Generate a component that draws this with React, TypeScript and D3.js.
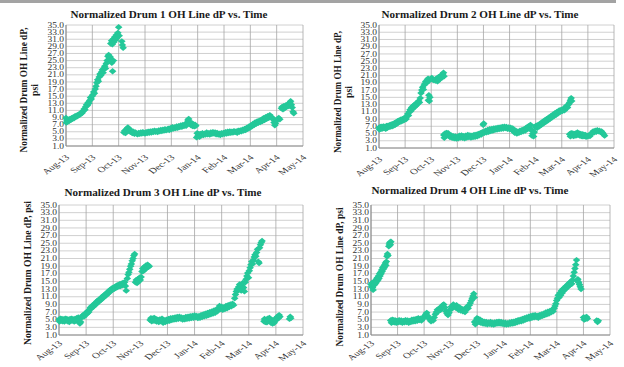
import React from 'react';
import * as d3 from 'd3';

// month categories on the x axis (equal spacing, one per month)
const monthLabels = ['Aug-13', 'Sep-13', 'Oct-13', 'Nov-13', 'Dec-13', 'Jan-14', 'Feb-14', 'Mar-14', 'Apr-14', 'May-14'];
const yTickValues = [1, 3, 5, 7, 9, 11, 13, 15, 17, 19, 21, 23, 25, 27, 29, 31, 33, 35];

// [month offset from Aug-13, dP psi]
const drum1: [number, number][] = [
  [0.00,8.9],[0.01,7.6],[0.03,8.3],[0.06,7.8],[0.09,8.4],[0.12,8.1],[0.15,8.6],[0.18,8.3],[0.21,8.8],[0.24,8.6],[0.27,9.0],[0.30,8.8],[0.33,9.3],[0.36,9.1],[0.39,9.5],[0.42,9.3],[0.45,9.7],[0.48,9.6],[0.51,10.0],[0.54,9.9],[0.57,10.3],[0.60,10.2],[0.63,10.6],[0.66,10.9],[0.69,11.4],[0.72,11.2],[0.75,12.0],[0.78,12.6],[0.81,12.4],[0.84,13.2],[0.87,13.0],[0.90,13.8],[0.93,14.6],[0.96,14.2],[0.99,15.0],[1.02,15.4],[1.05,16.2],[1.08,15.8],[1.11,17.0],[1.14,17.8],[1.17,18.8],[1.20,19.6],[1.23,19.2],[1.26,20.4],[1.29,21.2],[1.32,20.8],[1.35,21.8],[1.38,22.4],[1.41,21.6],[1.44,22.8],[1.47,23.4],[1.50,22.8],[1.53,24.2],[1.56,25.0],[1.59,26.2],[1.62,26.6],[1.65,25.6],[1.68,26.0],[1.71,25.2],[1.74,24.4],[1.77,22.0],[1.80,25.0],
  [1.70,29.8],[1.73,30.6],[1.76,29.6],[1.79,31.0],[1.82,30.2],[1.85,31.6],[1.88,30.8],[1.91,32.2],[1.94,31.4],[1.97,32.8],[2.00,34.4],[2.02,32.0],[2.12,30.4],[2.14,29.4],[2.17,28.6],
  [2.20,4.8],[2.23,5.3],[2.26,4.6],[2.29,5.6],[2.32,5.9],[2.35,6.2],[2.38,5.7],[2.41,5.3],[2.44,5.0],[2.47,5.4],[2.50,4.8],[2.53,4.6],[2.56,5.0],[2.60,4.4],[2.64,4.8],[2.68,4.5],[2.72,4.3],[2.76,4.7],[2.80,4.4],[2.84,4.8],[2.88,4.5],[2.92,4.9],[2.96,4.6],[3.00,4.5],[3.04,4.9],[3.08,4.6],[3.12,5.0],[3.16,4.7],[3.20,5.1],[3.24,4.8],[3.28,5.2],[3.32,4.9],[3.36,5.3],[3.40,5.0],[3.44,5.2],[3.48,4.9],[3.52,5.4],[3.56,5.1],[3.60,5.5],[3.64,5.2],[3.68,5.6],[3.72,5.3],[3.76,5.7],[3.80,5.4],[3.84,5.6],[3.88,5.9],[3.92,5.5],[3.96,6.0],[4.00,5.7],[4.04,6.3],[4.08,5.9],[4.12,6.2],[4.16,6.0],[4.20,6.5],[4.24,6.1],[4.28,6.6],[4.32,6.3],[4.36,6.8],[4.40,6.4],[4.44,6.9],[4.48,6.6],[4.52,7.0],[4.56,6.7],[4.60,7.6],[4.63,8.3],[4.66,8.6],[4.69,7.8],[4.72,7.2],[4.75,6.8],[4.78,7.4],[4.81,6.6],[4.84,7.1],[4.87,6.5],[4.90,7.0],[4.93,6.7],
  [4.96,3.4],[4.98,4.6],[5.01,3.8],[5.04,4.3],[5.07,3.6],[5.10,4.4],[5.14,4.0],[5.18,4.6],[5.22,4.1],[5.26,4.5],[5.30,4.2],[5.34,4.8],[5.38,4.3],[5.42,4.6],[5.46,4.2],[5.50,4.8],[5.54,4.4],[5.58,4.9],[5.62,4.5],[5.66,4.8],[5.70,4.3],[5.74,4.7],[5.78,4.2],[5.82,4.5],[5.86,4.1],[5.90,4.6],[5.94,4.3],[5.98,4.7],[6.02,4.4],[6.06,4.9],[6.10,4.5],[6.14,5.0],[6.18,4.6],[6.22,5.1],[6.26,4.7],[6.30,5.0],[6.34,4.8],[6.38,5.2],[6.42,4.9],[6.46,5.1],[6.50,4.7],[6.54,5.3],[6.58,5.0],[6.62,5.4],[6.66,5.1],[6.70,5.6],[6.74,5.3],[6.78,5.8],[6.82,5.5],[6.86,6.1],[6.90,5.8],[6.94,6.4],[6.98,6.1],[7.02,6.8],[7.06,6.5],[7.10,7.2],[7.14,6.9],[7.18,7.6],[7.22,7.2],[7.26,7.9],[7.30,7.5],[7.34,8.1],[7.38,7.7],[7.42,8.4],[7.46,8.0],[7.50,8.8],[7.54,8.3],[7.58,9.1],[7.62,8.6],[7.66,9.4],[7.70,8.9],[7.74,9.7],[7.78,9.2],[7.82,9.0],[7.86,8.5],[7.90,7.6],[7.93,6.8],[7.96,7.4],[8.00,8.2],[8.04,8.6],[8.08,8.9],[8.12,8.5],[8.18,11.6],[8.21,12.0],[8.24,11.3],[8.27,12.2],[8.30,11.6],[8.34,12.4],[8.38,12.0],[8.42,12.7],[8.46,12.2],[8.50,13.2],[8.53,13.6],[8.56,12.6],[8.59,11.8],[8.62,10.6],[8.65,10.2],
];

const drum2: [number, number][] = [
  [0.00,6.6],[0.02,6.1],[0.05,6.8],[0.08,6.3],[0.11,6.9],[0.14,6.4],[0.17,7.0],[0.20,6.5],[0.23,6.9],[0.26,6.3],[0.29,7.1],[0.32,6.6],[0.35,7.2],[0.38,6.8],[0.41,7.3],[0.44,6.9],[0.47,7.5],[0.50,7.0],[0.53,7.6],[0.56,7.2],[0.59,7.9],[0.62,7.4],[0.65,8.1],[0.68,7.7],[0.71,8.4],[0.74,8.0],[0.77,8.6],[0.80,8.2],[0.83,8.8],[0.86,8.4],[0.89,9.0],[0.92,8.6],[0.95,9.2],[0.98,8.8],[1.01,9.4],[1.04,9.0],[1.07,9.8],[1.10,10.4],[1.13,10.0],[1.16,11.0],[1.19,11.6],[1.22,11.2],[1.25,12.2],[1.28,11.8],[1.31,12.6],[1.34,12.2],[1.37,13.0],[1.40,12.6],[1.43,13.4],[1.46,13.0],[1.49,13.6],[1.52,14.0],[1.55,13.6],[1.58,14.8],[1.61,16.2],[1.64,17.0],[1.67,17.8],[1.70,17.2],[1.73,18.4],[1.76,18.8],[1.79,19.4],[1.82,19.0],[1.85,19.8],[1.88,20.2],[1.91,19.6],[1.89,14.2],[1.91,15.6],[1.93,14.0],[1.95,15.0],[1.98,20.0],[2.02,20.4],[2.08,19.8],[2.16,19.6],[2.20,20.2],[2.24,19.4],[2.28,20.6],[2.32,20.0],[2.36,21.0],[2.40,20.4],[2.44,21.4],[2.47,21.8],[2.49,20.8],
  [2.48,4.6],[2.50,3.8],[2.53,5.0],[2.56,4.3],[2.59,5.2],[2.62,4.6],[2.65,5.1],[2.68,4.4],[2.72,4.0],[2.76,4.5],[2.80,3.8],[2.84,4.3],[2.88,3.7],[2.92,4.2],[2.96,3.6],[3.00,4.1],[3.04,3.7],[3.08,4.4],[3.12,3.9],[3.16,4.5],[3.20,3.8],[3.24,4.3],[3.28,3.7],[3.32,4.4],[3.36,3.9],[3.40,4.6],[3.44,4.0],[3.48,4.5],[3.52,3.9],[3.56,4.4],[3.60,4.0],[3.64,4.6],[3.68,4.1],[3.72,4.7],[3.76,4.2],[3.80,4.9],[3.84,4.5],[3.88,5.1],[3.92,4.7],[3.96,5.4],[3.99,7.4],[4.01,7.8],[4.04,5.2],[4.08,5.8],[4.12,5.3],[4.16,6.0],[4.20,5.5],[4.24,6.2],[4.28,5.7],[4.32,6.3],[4.36,5.8],[4.40,6.4],[4.44,6.0],[4.48,6.5],[4.52,6.1],[4.56,6.6],[4.60,6.2],[4.64,6.7],[4.68,6.3],[4.72,6.8],[4.76,6.4],[4.80,6.9],[4.84,6.5],[4.88,6.8],[4.92,6.3],[4.96,6.7],[5.00,6.2],[5.04,6.6],[5.08,6.0],[5.12,6.4],[5.16,5.6],[5.20,5.2],[5.24,5.8],[5.28,5.0],[5.32,5.5],[5.36,5.2],[5.40,5.8],[5.44,5.4],[5.48,6.0],[5.52,5.6],[5.56,6.2],[5.60,5.8],[5.64,6.6],[5.68,6.2],[5.72,7.0],[5.76,6.4],[5.80,7.4],[5.83,6.0],[5.86,4.4],[5.89,5.0],[5.92,4.2],[5.95,5.4],[5.98,6.8],[6.02,7.2],[6.06,6.6],[6.10,7.4],[6.14,7.0],[6.18,7.8],[6.22,7.4],[6.26,8.2],[6.30,7.8],[6.34,8.6],[6.38,8.2],[6.42,9.0],[6.46,8.6],[6.50,9.4],[6.54,9.0],[6.58,9.8],[6.62,9.4],[6.66,10.2],[6.70,9.8],[6.74,10.6],[6.78,10.2],[6.82,11.0],[6.86,10.6],[6.90,11.4],[6.94,11.0],[6.98,11.6],[7.02,11.2],[7.06,11.8],[7.10,11.4],[7.14,12.2],[7.18,12.6],[7.22,12.2],[7.26,13.0],[7.30,13.6],[7.33,14.2],[7.36,14.8],[7.38,14.0],
  [7.30,4.8],[7.33,4.2],[7.36,5.1],[7.39,4.5],[7.42,5.0],[7.45,4.3],[7.48,4.9],[7.51,4.4],[7.54,5.0],[7.57,4.5],[7.60,5.3],[7.63,4.7],[7.66,5.0],[7.69,4.4],[7.72,4.9],[7.75,4.3],[7.78,4.8],[7.81,4.2],[7.84,4.7],[7.87,4.3],[7.90,4.6],[7.93,4.1],[7.96,4.4],[8.00,4.2],[8.04,4.5],[8.08,4.3],[8.12,4.8],[8.16,5.2],[8.20,5.6],[8.24,5.3],[8.28,5.8],[8.32,5.5],[8.36,5.9],[8.40,5.6],[8.44,5.8],[8.48,5.4],[8.52,5.6],[8.56,5.2],[8.60,4.8],[8.64,4.4],
];

const drum3: [number, number][] = [
  [0.00,5.0],[0.02,4.5],[0.05,5.3],[0.08,4.7],[0.11,5.2],[0.14,4.6],[0.17,5.1],[0.20,4.5],[0.23,5.3],[0.26,4.8],[0.29,5.2],[0.32,4.6],[0.35,5.0],[0.38,4.4],[0.41,5.2],[0.44,4.7],[0.47,5.3],[0.50,4.8],[0.53,5.1],[0.56,4.5],[0.59,5.2],[0.62,4.7],[0.65,5.4],[0.68,4.9],[0.71,5.6],[0.74,5.0],[0.77,4.0],[0.80,4.4],[0.83,5.6],[0.86,5.9],[0.89,6.2],[0.92,5.8],[0.95,6.5],[0.98,6.3],[1.01,6.9],[1.04,6.6],[1.07,7.3],[1.10,7.0],[1.13,7.7],[1.16,8.2],[1.19,7.9],[1.22,8.6],[1.25,8.3],[1.28,9.0],[1.31,8.7],[1.34,9.4],[1.37,9.1],[1.40,9.8],[1.43,9.5],[1.46,10.2],[1.49,9.9],[1.52,10.5],[1.55,10.2],[1.58,10.9],[1.61,10.6],[1.64,11.3],[1.67,11.0],[1.70,11.6],[1.73,11.3],[1.76,12.0],[1.79,11.7],[1.82,12.4],[1.85,12.1],[1.88,12.8],[1.91,12.5],[1.94,13.1],[1.97,12.8],[2.00,13.4],[2.03,13.1],[2.06,13.6],[2.09,13.3],[2.12,13.9],[2.15,13.5],[2.18,14.1],[2.21,13.7],[2.24,14.3],[2.27,13.8],[2.30,14.4],[2.33,14.0],[2.36,14.6],[2.39,14.2],[2.42,14.8],[2.45,13.8],[2.48,12.6],[2.52,15.8],[2.55,16.8],[2.58,17.4],[2.61,18.2],[2.64,19.0],[2.67,19.6],[2.70,20.4],[2.73,21.0],[2.76,21.8],[2.79,22.2],[2.82,14.8],[2.85,15.4],[2.88,14.6],[2.91,15.6],[2.94,15.0],[2.97,16.0],[3.00,15.4],[3.03,16.2],[3.06,17.6],[3.09,18.4],[3.12,17.8],[3.15,18.8],[3.18,18.2],[3.21,19.2],[3.24,18.6],[3.27,19.4],[3.30,18.8],[3.33,19.0],
  [3.36,4.9],[3.39,5.4],[3.42,4.6],[3.45,5.3],[3.48,4.8],[3.51,5.5],[3.54,4.7],[3.57,5.2],[3.60,4.5],[3.64,5.0],[3.68,4.4],[3.72,5.1],[3.76,4.6],[3.80,5.3],[3.84,4.2],[3.88,4.8],[3.92,4.4],[3.96,5.0],[4.00,4.6],[4.04,5.2],[4.08,4.7],[4.12,5.4],[4.16,4.9],[4.20,5.5],[4.24,5.0],[4.28,5.6],[4.32,5.1],[4.36,5.7],[4.40,5.2],[4.44,5.8],[4.48,5.3],[4.52,5.6],[4.56,5.0],[4.60,5.5],[4.64,5.1],[4.68,5.7],[4.72,5.2],[4.76,5.8],[4.80,5.3],[4.84,5.9],[4.88,5.4],[4.92,6.0],[4.96,5.5],[5.00,6.1],[5.04,5.6],[5.08,6.0],[5.12,5.4],[5.16,5.9],[5.20,5.5],[5.24,6.2],[5.28,5.7],[5.32,6.4],[5.36,5.9],[5.40,6.6],[5.44,6.0],[5.48,6.8],[5.52,6.2],[5.56,7.0],[5.60,6.4],[5.64,7.2],[5.68,6.6],[5.72,7.4],[5.76,6.8],[5.80,7.6],[5.84,7.2],[5.88,8.0],[5.92,8.6],[5.96,7.8],[6.00,8.4],[6.04,7.6],[6.08,8.2],[6.12,7.8],[6.16,8.6],[6.20,8.0],[6.24,8.8],[6.28,8.3],[6.32,9.0],[6.36,8.5],[6.40,9.2],[6.44,8.8],[6.48,10.6],[6.51,11.6],[6.54,12.4],[6.57,13.0],[6.60,12.6],[6.63,13.6],[6.66,14.2],[6.69,13.2],[6.72,12.6],[6.75,13.8],[6.78,14.6],[6.81,13.4],[6.84,12.4],[6.87,14.8],[6.90,15.6],[6.93,16.4],[6.96,17.2],[6.99,16.0],[7.02,17.8],[7.05,18.6],[7.08,19.4],[7.11,20.2],[7.14,19.6],[7.17,20.6],[7.20,21.4],[7.23,22.0],[7.26,21.6],[7.29,22.6],[7.32,23.4],[7.35,20.2],[7.38,19.8],[7.40,23.8],[7.43,24.6],[7.46,25.2],[7.49,25.6],
  [7.56,4.6],[7.58,5.2],[7.61,4.4],[7.64,5.0],[7.67,4.3],[7.70,5.3],[7.73,4.8],[7.76,5.5],[7.79,4.9],[7.82,4.2],[7.85,4.8],[7.88,4.0],[7.91,4.6],[7.94,4.2],[7.97,5.0],[8.00,5.4],[8.03,5.0],[8.06,5.8],[8.09,5.4],[8.12,6.2],[8.15,5.8],[8.50,5.2],[8.53,5.8],[8.55,5.4],
];

const drum4: [number, number][] = [
  [0.00,14.2],[0.02,13.6],[0.04,14.6],[0.06,13.4],[0.08,12.8],[0.10,14.0],[0.12,14.8],[0.14,14.2],[0.16,15.2],[0.18,14.6],[0.20,15.6],[0.22,15.0],[0.24,16.0],[0.26,15.4],[0.28,16.4],[0.30,15.8],[0.32,17.0],[0.34,16.4],[0.36,17.4],[0.38,17.0],[0.40,18.0],[0.42,17.6],[0.44,18.6],[0.46,18.2],[0.48,19.0],[0.50,18.6],[0.52,19.4],[0.54,19.8],[0.56,19.2],[0.58,20.2],[0.60,21.6],[0.62,22.2],[0.64,21.8],[0.67,24.2],[0.69,24.8],[0.71,25.2],[0.73,24.6],[0.75,25.4],
  [0.74,4.8],[0.77,4.2],[0.80,5.0],[0.83,4.4],[0.86,4.9],[0.89,4.3],[0.92,4.8],[0.95,4.2],[0.98,4.7],[1.02,4.3],[1.06,4.9],[1.10,4.4],[1.14,4.8],[1.18,4.2],[1.22,4.7],[1.26,4.3],[1.30,4.9],[1.34,4.4],[1.38,4.8],[1.42,4.2],[1.46,4.7],[1.50,4.4],[1.54,5.0],[1.58,4.5],[1.62,5.1],[1.66,4.6],[1.70,5.2],[1.74,4.7],[1.78,5.4],[1.82,4.9],[1.86,5.3],[1.90,4.8],[1.94,5.2],[1.98,5.6],[2.02,6.0],[2.06,6.4],[2.10,6.8],[2.14,6.0],[2.18,5.4],[2.22,5.0],[2.26,4.6],[2.30,5.2],[2.34,4.8],[2.38,5.6],[2.42,6.4],[2.46,7.0],[2.50,7.6],[2.54,7.2],[2.58,8.0],[2.62,7.6],[2.66,8.4],[2.70,8.8],[2.74,9.0],[2.78,8.2],[2.82,7.2],[2.86,6.6],[2.90,6.2],[2.94,6.8],[2.98,7.6],[3.02,8.4],[3.06,8.0],[3.10,9.0],[3.14,8.6],[3.18,8.2],[3.22,8.8],[3.26,8.0],[3.30,7.6],[3.34,8.2],[3.38,7.4],[3.42,7.8],[3.46,7.2],[3.50,7.6],[3.54,7.0],[3.58,7.8],[3.62,8.4],[3.66,8.0],[3.70,8.8],[3.74,9.4],[3.78,10.0],[3.81,10.6],[3.84,11.2],[3.87,11.8],[3.89,10.8],
  [3.90,4.4],[3.93,3.8],[3.96,4.8],[3.99,5.4],[4.02,4.6],[4.05,5.2],[4.08,4.4],[4.11,5.0],[4.14,4.2],[4.18,4.7],[4.22,4.0],[4.26,4.5],[4.30,3.9],[4.34,4.4],[4.38,3.8],[4.42,4.3],[4.46,3.9],[4.50,4.4],[4.54,3.8],[4.58,4.2],[4.62,3.7],[4.66,4.3],[4.70,3.9],[4.74,4.4],[4.78,4.0],[4.82,4.5],[4.86,4.0],[4.90,4.4],[4.94,3.9],[4.98,4.3],[5.02,3.8],[5.06,4.2],[5.10,3.7],[5.14,4.1],[5.18,3.8],[5.22,4.3],[5.26,3.9],[5.30,4.4],[5.34,4.0],[5.38,4.5],[5.42,4.1],[5.46,4.7],[5.50,4.3],[5.54,4.9],[5.58,4.5],[5.62,5.0],[5.66,4.6],[5.70,5.2],[5.74,4.8],[5.78,5.4],[5.82,5.0],[5.86,5.6],[5.90,5.2],[5.94,5.8],[5.98,5.3],[6.02,6.0],[6.06,5.5],[6.10,6.1],[6.14,5.6],[6.18,6.2],[6.22,5.7],[6.26,6.0],[6.30,5.5],[6.34,6.2],[6.38,5.8],[6.42,6.4],[6.46,6.0],[6.50,6.6],[6.54,6.2],[6.58,6.9],[6.62,6.4],[6.66,7.1],[6.70,6.6],[6.74,7.3],[6.78,6.9],[6.82,7.6],[6.86,7.2],[6.90,8.0],[6.93,8.6],[6.96,9.2],[6.99,10.0],[7.02,10.6],[7.05,11.4],[7.08,10.8],[7.11,12.0],[7.14,11.4],[7.17,12.6],[7.20,12.0],[7.23,13.0],[7.26,12.6],[7.29,13.4],[7.32,13.0],[7.35,13.8],[7.38,13.4],[7.41,14.2],[7.44,13.8],[7.47,14.6],[7.50,14.2],[7.53,15.0],[7.56,14.4],[7.59,15.4],[7.62,16.4],[7.65,17.4],[7.68,18.4],[7.71,19.4],[7.74,20.6],[7.76,15.2],[7.79,15.6],[7.82,14.8],[7.85,14.2],[7.88,13.6],[7.91,13.0],
  [8.00,5.6],[8.03,5.0],[8.06,5.6],[8.09,5.2],[8.12,5.7],[8.15,5.3],[8.50,4.8],[8.53,4.4],[8.56,4.7],
];

const titles = [
  'Normalized Drum 1 OH Line dP vs. Time',
  'Normalized Drum 2 OH Line dP vs. Time',
  'Normalized Drum 3 OH Line dP vs. Time',
  'Normalized Drum 4 OH Line dP vs. Time',
];

const SERIF = '"Liberation Serif", "Times New Roman", serif';
const MARKER = '#24C899';
// the source image is a bit stretched horizontally
const STRETCH = 1.3;

interface PanelProps {
  title: string;
  data: [number, number][];
  box: { left: number; right: number; top: number; bottom: number };
  titleX: number;
  titleY: number;
  yLabel: string[];
  yLabelLen: number[];
  yLabelX: number[];
  yLabelY: number;
  xLabelGap: number;
}

const markerPath = d3.symbol(d3.symbolSquare, 20)() || '';

const Panel: React.FC<PanelProps> = ({ title, data, box, titleX, titleY, yLabel, yLabelLen, yLabelX, yLabelY, xLabelGap }) => {
  const x = d3.scaleLinear().domain([0, monthLabels.length - 1]).range([box.left, box.right]);
  const y = d3.scaleLinear().domain([1, 35]).range([box.bottom, box.top]);

  return (
    <g>
      <text x={titleX} y={titleY} textAnchor="middle" fontFamily={SERIF} fontWeight="bold" fontSize={11}
        textLength={197} lengthAdjust="spacingAndGlyphs" fill="#1a1a1a">
        {title}
      </text>
      {/* horizontal grid */}
      {yTickValues.map(t => (
        <line key={'h' + t} x1={box.left} x2={box.right} y1={y(t)} y2={y(t)} stroke="#c4c4c4" strokeWidth={0.8} />
      ))}
      {/* vertical grid */}
      {monthLabels.map((m, i) => (
        <line key={'v' + m} x1={x(i)} x2={x(i)} y1={box.top} y2={box.bottom} stroke="#a6a6a6" strokeWidth={0.8} />
      ))}
      <line x1={box.left} x2={box.right} y1={box.bottom} y2={box.bottom} stroke="#8c8c8c" strokeWidth={1} />
      <line x1={box.left} x2={box.left} y1={box.top} y2={box.bottom} stroke="#8c8c8c" strokeWidth={1} />
      {/* y tick labels */}
      {yTickValues.map(t => (
        <text key={'yl' + t} transform={`translate(${box.left - 2},${y(t) + 2.6}) scale(${STRETCH},1)`}
          textAnchor="end" fontFamily={SERIF} fontSize={7.3} fill="#333">
          {t.toFixed(1)}
        </text>
      ))}
      {/* x tick labels */}
      {monthLabels.map((m, i) => (
        <text
          key={'xl' + m}
          transform={`translate(${x(i) + 4},${box.bottom + xLabelGap}) scale(1.4,1) rotate(-45)`}
          textAnchor="end"
          fontFamily={SERIF}
          fontSize={7.8}
          fill="#333"
        >
          {m}
        </text>
      ))}
      {/* y axis title */}
      {yLabel.map((line, i) => (
        <text
          key={'yt' + i}
          transform={`translate(${yLabelX[i]},${yLabelY}) rotate(-90)`}
          textAnchor="middle"
          fontFamily={SERIF}
          fontWeight="bold"
          fontSize={9.4}
          textLength={yLabelLen[i]}
          lengthAdjust="spacingAndGlyphs"
          fill="#1a1a1a"
        >
          {line}
        </text>
      ))}
      {/* markers */}
      {data.map(([mx, v], i) => (
        <path key={'p' + i} d={markerPath} transform={`translate(${x(mx)},${y(v)}) scale(1.2,1) rotate(45)`} fill={MARKER} />
      ))}
    </g>
  );
};

const App: React.FC = () => {
  const twoLine = ['Normalized Drum OH Line dP,', 'psi'];
  const oneLine = ['Normalized Drum OH Line dP, psi'];
  return (
    <svg width={624} height={367} style={{ position: 'absolute', left: 0, top: 0, background: '#fff' }}>
      <rect x={0} y={0} width={624} height={367} fill="#fff" />
      <rect x={0} y={0} width={616} height={3} fill="#a3a3a3" />
      <Panel title={titles[0]} data={drum1} box={{ left: 66, right: 303, top: 25, bottom: 146 }}
        titleX={169} titleY={18} yLabel={twoLine} yLabelLen={[125, 12]} yLabelX={[27, 38]} yLabelY={90} xLabelGap={12} />
      <Panel title={titles[1]} data={drum2} box={{ left: 379, right: 614, top: 25, bottom: 148 }}
        titleX={480} titleY={18} yLabel={twoLine} yLabelLen={[122, 12]} yLabelX={[341, 352]} yLabelY={92} xLabelGap={12} />
      <Panel title={titles[2]} data={drum3} box={{ left: 59, right: 303, top: 205, bottom: 335 }}
        titleX={163} titleY={196} yLabel={oneLine} yLabelLen={[144]} yLabelX={[31]} yLabelY={273} xLabelGap={9} />
      <Panel title={titles[3]} data={drum4} box={{ left: 371, right: 610, top: 205, bottom: 335 }}
        titleX={470} titleY={194} yLabel={oneLine} yLabelLen={[139]} yLabelX={[343]} yLabelY={277} xLabelGap={9} />
    </svg>
  );
};

export default App;
